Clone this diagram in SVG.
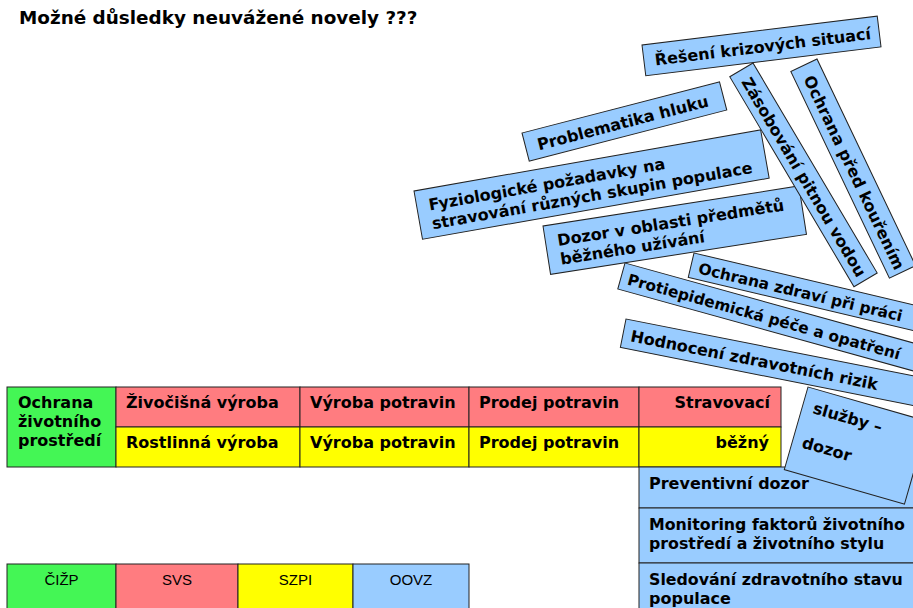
<svg xmlns="http://www.w3.org/2000/svg" width="913" height="608" viewBox="0 0 913 608">
<style>
.b{font-family:"DejaVu Sans",Verdana,sans-serif;font-weight:bold;font-size:16px;fill:#000}
.s{font-size:15.4px}
.l{font-family:"Liberation Sans",Arial,sans-serif;font-size:15px;fill:#000}
.box{stroke:#222;stroke-width:1}
.blue{fill:#99CCFF}
.red{fill:#FF7C80}
.yel{fill:#FFFF00}
.grn{fill:#44F655}
</style>
<rect width="913" height="608" fill="#fff"/>
<text class="b" x="19" y="24" style="font-size:18.4px">Možné důsledky neuvážené novely ???</text>

<g id="table">
<g id="zp"><rect class="box grn" x="7" y="387" width="109" height="80"/>
<text class="b" x="18" y="408">Ochrana</text><text class="b" x="18" y="427">životního</text><text class="b" x="18" y="446">prostředí</text></g>
<g id="zivocisna"><rect class="box red" x="116" y="387" width="184" height="40"/><text class="b" x="126" y="408">Živočišná výroba</text></g>
<g id="vyroba1"><rect class="box red" x="300" y="387" width="169" height="40"/><text class="b" x="310" y="408">Výroba potravin</text></g>
<g id="prodej1"><rect class="box red" x="469" y="387" width="170" height="40"/><text class="b" x="479" y="408">Prodej potravin</text></g>
<g id="stravovaci"><rect class="box red" x="639" y="387" width="142" height="40"/><text class="b" x="770" y="408" text-anchor="end">Stravovací</text></g>
<g id="rostlinna"><rect class="box yel" x="116" y="427" width="184" height="40"/><text class="b" x="126" y="448">Rostlinná výroba</text></g>
<g id="vyroba2"><rect class="box yel" x="300" y="427" width="169" height="40"/><text class="b" x="310" y="448">Výroba potravin</text></g>
<g id="prodej2"><rect class="box yel" x="469" y="427" width="170" height="40"/><text class="b" x="479" y="448">Prodej potravin</text></g>
<g id="bezny"><rect class="box yel" x="639" y="427" width="142" height="40"/><text class="b" x="769" y="448" text-anchor="end">běžný</text></g>
</g>

<g id="preventivni"><rect class="box blue" x="639" y="467" width="290" height="41"/><text class="b" x="649" y="489">Preventivní dozor</text></g>
<g id="monitoring"><rect class="box blue" x="639" y="508" width="290" height="55"/><text class="b" x="649" y="530" style="font-size:15.8px">Monitoring faktorů životního</text><text class="b" x="649" y="549" style="font-size:15.8px">prostředí a životního stylu</text></g>
<g id="sledovani"><rect class="box blue" x="639" y="563" width="290" height="60"/><text class="b" x="649" y="585" style="font-size:15.8px">Sledování zdravotního stavu</text><text class="b" x="649" y="604">populace</text></g>

<g id="reseni" transform="translate(642,45) rotate(-7)"><rect class="box blue" width="237" height="31"/><text class="b" x="11" y="22">Řešení krizových situací</text></g>
<g id="hluk" transform="translate(522,133) rotate(-14.5)"><rect class="box blue" width="204" height="29"/><text class="b" x="12" y="21">Problematika hluku</text></g>
<g id="fyzio" transform="translate(414,191) rotate(-10)"><rect class="box blue" width="352" height="49"/><text class="b" x="12" y="22">Fyziologické požadavky na</text><text class="b" x="12" y="41">stravování různých skupin populace</text></g>
<g id="dozor" transform="translate(543,226) rotate(-8.9)"><rect class="box blue" width="259" height="49"/><text class="b" x="12" y="22">Dozor v oblasti předmětů</text><text class="b" x="12" y="41">běžného užívání</text></g>
<g id="voda" transform="translate(753,63) rotate(59.4)"><rect class="box blue" width="244" height="27"/><text class="b" x="10" y="20">Zásobování pitnou vodou</text></g>
<g id="koureni" transform="translate(817,59) rotate(64.5)"><rect class="box blue" width="229" height="29"/><text class="b" x="12" y="21">Ochrana před kouřením</text></g>
<g id="prace" transform="translate(694,253) rotate(13.3)"><rect class="box blue" width="280" height="25"/><text class="b s" x="8" y="19">Ochrana zdraví při práci</text></g>
<g id="epid" transform="translate(625,263) rotate(15.5)"><rect class="box blue" width="330" height="27"/><text class="b s" x="7" y="20">Protiepidemická péče a opatření</text></g>
<g id="rizika" transform="translate(626,319) rotate(11.2)"><rect class="box blue" width="330" height="29"/><text class="b" x="8" y="21">Hodnocení zdravotních rizik</text></g>
<g id="sluzby" transform="translate(808,387) rotate(16)"><rect class="box blue" width="125" height="86"/><text class="b" x="11" y="24">služby –</text><text class="b" x="10" y="60">dozor</text></g>

<g id="legend">
<g id="cizp"><rect class="box grn" x="7" y="564" width="109" height="60"/><text class="l" x="61.5" y="585" text-anchor="middle">ČIŽP</text></g>
<g id="svs"><rect class="box red" x="116" y="564" width="122" height="60"/><text class="l" x="177" y="585" text-anchor="middle">SVS</text></g>
<g id="szpi"><rect class="box yel" x="238" y="564" width="115" height="60"/><text class="l" x="295.5" y="585" text-anchor="middle">SZPI</text></g>
<g id="oovz"><rect class="box blue" x="353" y="564" width="116" height="60"/><text class="l" x="411" y="585" text-anchor="middle">OOVZ</text></g>
</g>
<g id="connectors"></g>
</svg>
